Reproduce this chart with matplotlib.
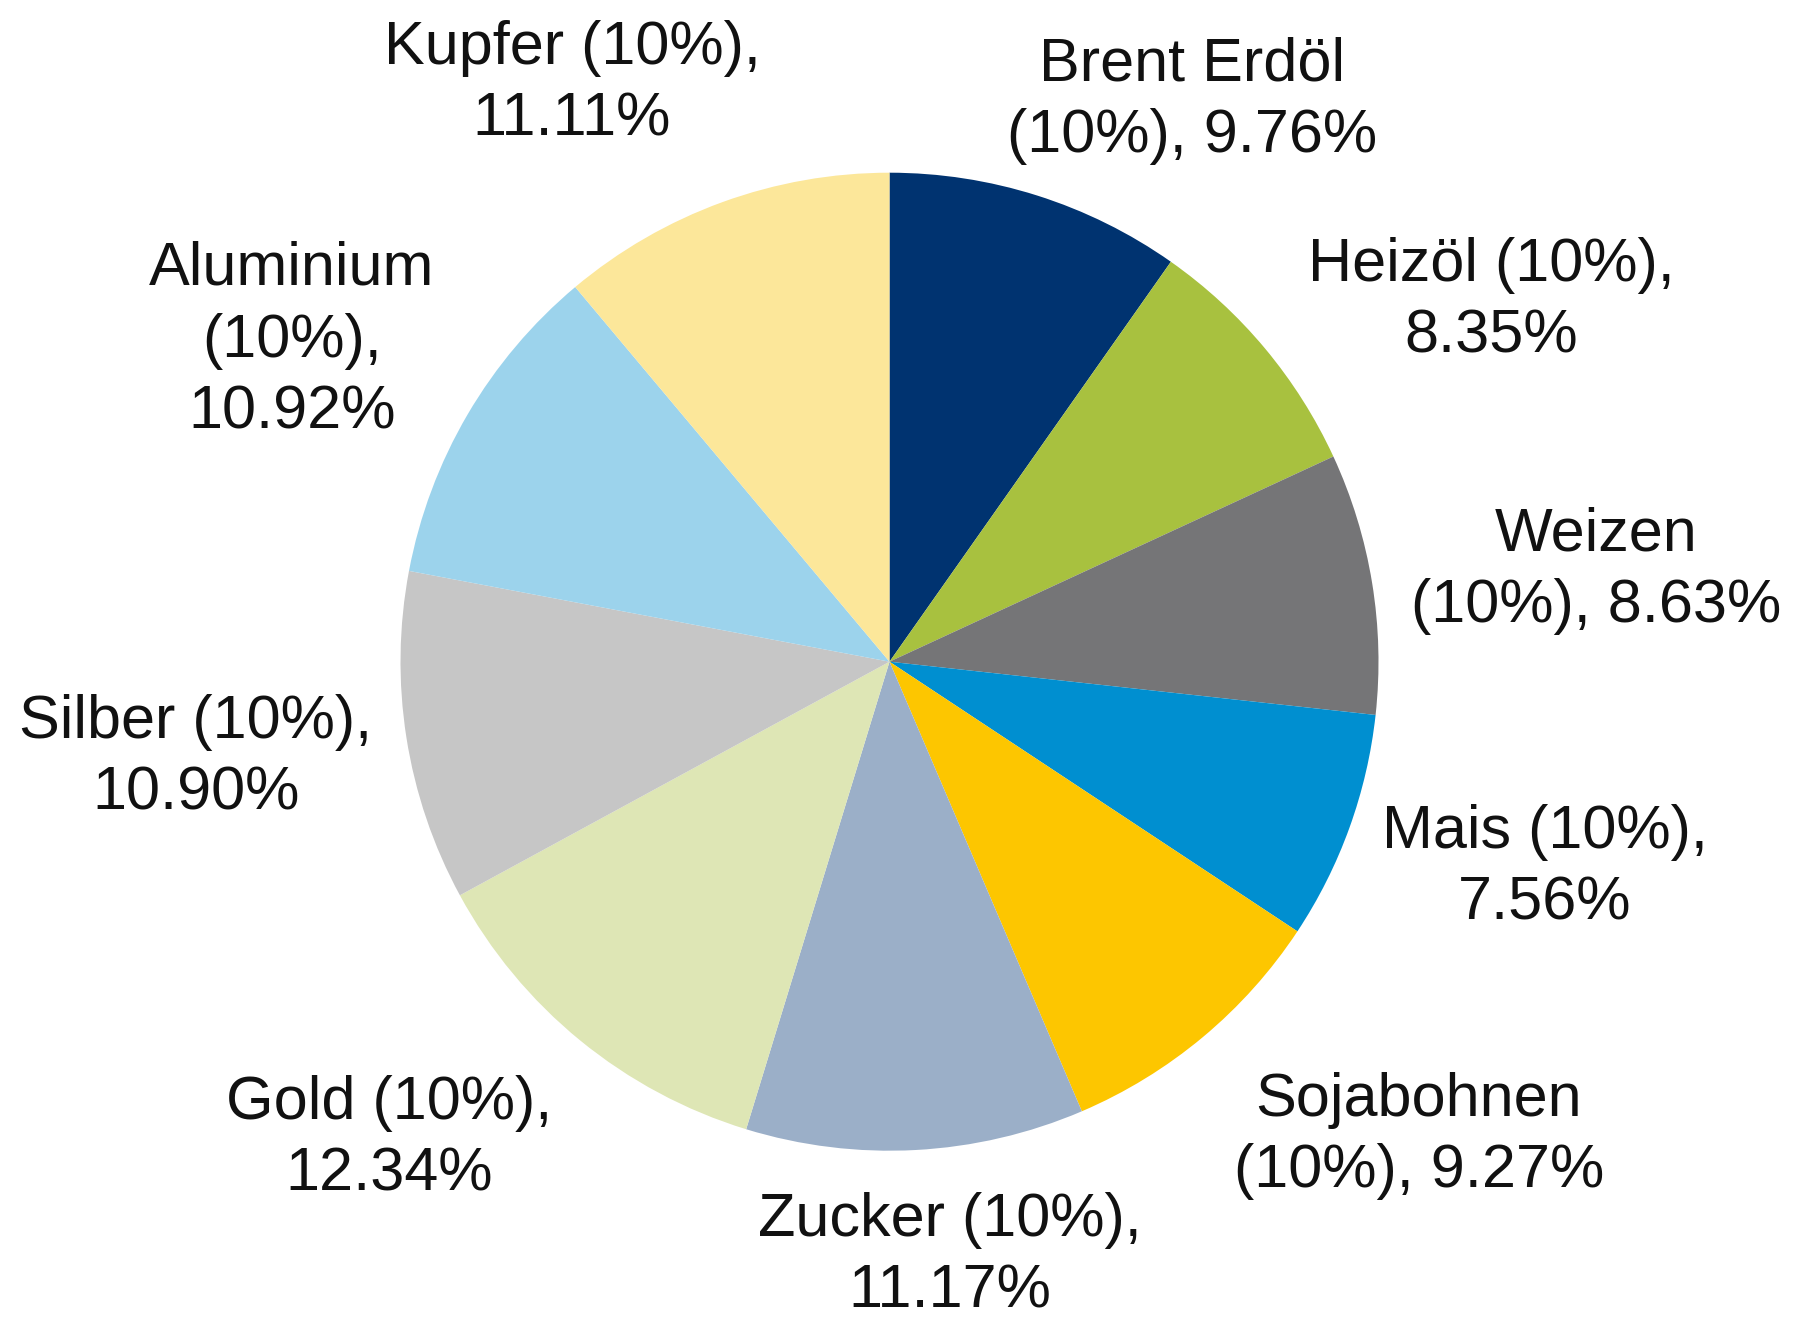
import matplotlib
matplotlib.use("Agg")
import matplotlib.pyplot as plt

# Data
categories = ["Brent Erdöl", "Heizöl", "Weizen", "Mais", "Sojabohnen",
              "Zucker", "Gold", "Silber", "Aluminium", "Kupfer"]
weights = ["10%"] * 10
values = [9.76, 8.35, 8.63, 7.56, 9.27, 11.17, 12.34, 10.90, 10.92, 11.11]
label_texts = [
    "Brent Erdöl\n(10%), 9.76%",
    "Heizöl (10%),\n8.35%",
    "Weizen\n(10%), 8.63%",
    "Mais (10%),\n7.56%",
    "Sojabohnen\n(10%), 9.27%",
    "Zucker (10%),\n11.17%",
    "Gold (10%),\n12.34%",
    "Silber (10%),\n10.90%",
    "Aluminium\n(10%),\n10.92%",
    "Kupfer (10%),\n11.11%",
]

# Styles / layout
colors = ["#003370", "#A8C13F", "#757577", "#008FD0", "#FDC600",
          "#9BAFC8", "#DEE6B5", "#C6C6C6", "#9CD3EC", "#FCE79A"]
W, H = 1795, 1322
center = (889.5, H - 661.7)
radius = 489
label_pos = [(1192, 101), (1491, 301), (1596, 571), (1545, 868), (1419, 1136),
             (950, 1256), (389, 1139), (196, 758), (292, 341), (572, 84)]

fig = plt.figure(figsize=(W / 100, H / 100), dpi=100)
ax = fig.add_axes([0, 0, 1, 1])

ax.pie(values, colors=colors, startangle=90, counterclock=False,
       center=center, radius=radius, wedgeprops=dict(linewidth=0),
       frame=True)
ax.set_xlim(0, W)
ax.set_ylim(0, H)
ax.set_aspect("equal")
ax.axis("off")

for txt, (x, y) in zip(label_texts, label_pos):
    ax.text(x, H - y, txt, ha="center", va="center", fontsize=44,
            family=["Liberation Sans", "DejaVu Sans"], color="#111111",
            linespacing=1.34, multialignment="center")

fig.savefig("out.png", dpi=100)
